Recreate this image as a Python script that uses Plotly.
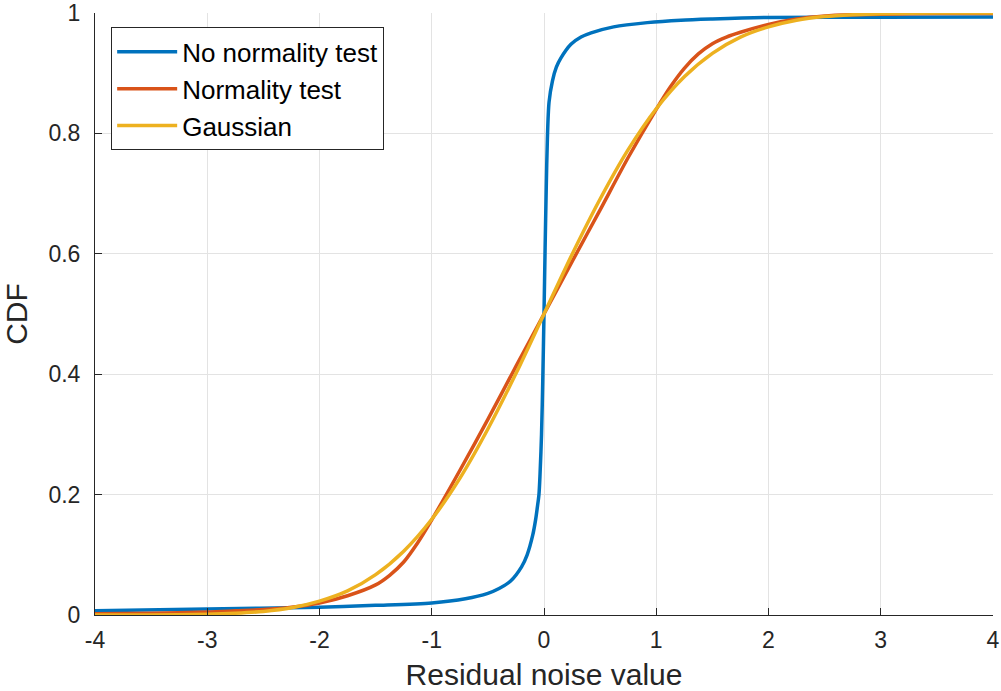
import plotly.graph_objects as go

# --- data ---
x_gauss = [-4, -3.5, -3, -2.75, -2.5, -2.25, -2, -1.75, -1.5, -1.25, -1, -0.75,
           -0.5, -0.25, 0, 0.25, 0.5, 0.75, 1, 1.25, 1.5, 1.75, 2, 2.25, 2.5,
           2.75, 3, 3.5, 4]
gaussian_cdf = [0.0000, 0.0002, 0.0013, 0.003, 0.006, 0.012, 0.023, 0.040, 0.067,
                0.106, 0.159, 0.227, 0.309, 0.401, 0.500, 0.599, 0.691, 0.773,
                0.841, 0.894, 0.933, 0.960, 0.977, 0.988, 0.994, 0.997, 0.9987,
                0.9998, 1.000]

x_norm = [-4, -3.5, -3, -2.75, -2.5, -2.25, -2, -1.75, -1.5, -1.375, -1.25, -1.125,
          -1, -0.75, -0.5, -0.25, 0, 0.25, 0.5, 0.75, 1, 1.125, 1.25, 1.375, 1.5,
          1.625, 1.75, 2, 2.25, 2.5, 2.75, 3, 3.5, 4]
normality_cdf = [0.002, 0.003, 0.005, 0.007, 0.009, 0.013, 0.020, 0.032, 0.050,
                 0.066, 0.088, 0.120, 0.158, 0.240, 0.325, 0.413, 0.500, 0.587,
                 0.673, 0.760, 0.840, 0.877, 0.908, 0.932, 0.949, 0.960, 0.968,
                 0.981, 0.990, 0.995, 0.997, 0.998, 0.999, 0.999]

x_nonorm = [-4, -3, -2, -1.5, -1, -0.7, -0.5, -0.4, -0.3, -0.2, -0.15, -0.1,
            -0.075, -0.06, -0.045, -0.035, -0.022, -0.011, 0, 0.01, 0.02, 0.03,
            0.045, 0.075, 0.11, 0.15, 0.24, 0.33, 0.42, 0.62, 0.92, 1.22, 1.5,
            2, 3, 4]
nonorm_cdf = [0.007, 0.010, 0.013, 0.016, 0.020, 0.027, 0.036, 0.044, 0.056,
              0.080, 0.100, 0.133, 0.158, 0.178, 0.200, 0.235, 0.300, 0.390,
              0.500, 0.610, 0.710, 0.790, 0.852, 0.887, 0.910, 0.925, 0.948,
              0.960, 0.967, 0.977, 0.984, 0.988, 0.990, 0.9925, 0.993, 0.9935]

series_names = ["No normality test", "Normality test", "Gaussian"]
colors = ["#0072BD", "#D95319", "#EDB120"]

x_ticks = [-4, -3, -2, -1, 0, 1, 2, 3, 4]
x_tick_labels = ["-4", "-3", "-2", "-1", "0", "1", "2", "3", "4"]
y_ticks = [0, 0.2, 0.4, 0.6, 0.8, 1]
y_tick_labels = ["0", "0.2", "0.4", "0.6", "0.8", "1"]

FONT = "Liberation Sans, Arial, sans-serif"

fig = go.Figure()
fig.add_trace(go.Scatter(x=x_nonorm, y=nonorm_cdf, mode="lines", name=series_names[0],
                         line=dict(color=colors[0], width=3.5, shape="spline", smoothing=0.8)))
fig.add_trace(go.Scatter(x=x_norm, y=normality_cdf, mode="lines", name=series_names[1],
                         line=dict(color=colors[1], width=3.5, shape="spline", smoothing=0.8)))
fig.add_trace(go.Scatter(x=x_gauss, y=gaussian_cdf, mode="lines", name=series_names[2],
                         line=dict(color=colors[2], width=3.5, shape="spline", smoothing=0.8)))

fig.update_layout(
    width=1001, height=691,
    margin=dict(l=95, r=8, t=13, b=76, autoexpand=False),
    paper_bgcolor="white", plot_bgcolor="white",
    font=dict(family=FONT, color="#262626", size=23),
    showlegend=True,
    legend=dict(
        x=0.018, y=0.976, xanchor="left", yanchor="top",
        bgcolor="white", bordercolor="#262626", borderwidth=1,
        font=dict(family=FONT, size=26, color="black"),
        itemwidth=60, tracegroupgap=0,
    ),
    xaxis=dict(
        range=[-4, 4], tickmode="array", tickvals=x_ticks, ticktext=x_tick_labels,
        showgrid=True, gridcolor="#e3e3e3", gridwidth=1,
        zeroline=False, showline=True, linecolor="#262626", linewidth=1,
        ticks="inside", ticklen=7, tickcolor="#262626",
        tickfont=dict(size=23, color="#262626"), ticklabelstandoff=4,
        automargin=False,
        title=dict(text="Residual noise value", font=dict(size=30, color="#262626"), standoff=17),
    ),
    yaxis=dict(
        range=[0, 1], tickmode="array", tickvals=y_ticks, ticktext=y_tick_labels,
        showgrid=True, gridcolor="#e3e3e3", gridwidth=1,
        zeroline=False, showline=True, linecolor="#262626", linewidth=1,
        ticks="inside", ticklen=7, tickcolor="#262626",
        tickfont=dict(size=23, color="#262626"), ticklabelstandoff=9,
        automargin=False,
        title=dict(text="CDF", font=dict(size=30, color="#262626"), standoff=16),
    ),
)

fig.write_html("out.html", config={"displayModeBar": False},
               post_script="document.body.style.margin='0';")
